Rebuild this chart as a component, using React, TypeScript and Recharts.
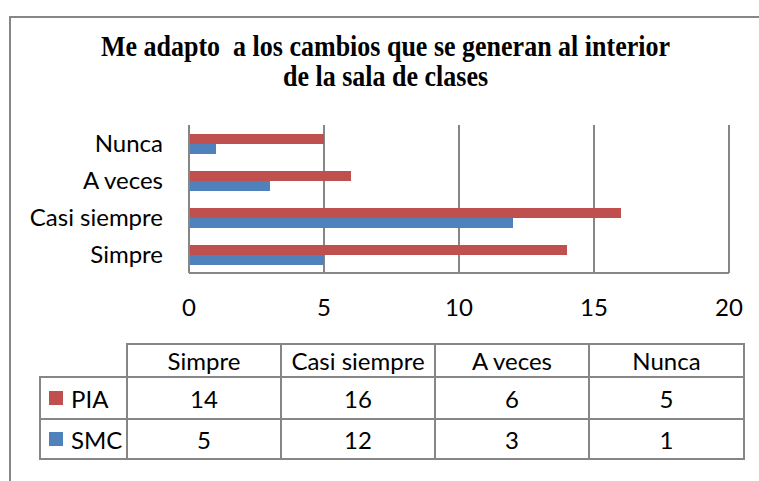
import { BarChart, Bar, XAxis, YAxis, CartesianGrid } from 'recharts'

const categories = ['Simpre', 'Casi siempre', 'A veces', 'Nunca']
const piaValues = [14, 16, 6, 5]
const smcValues = [5, 12, 3, 1]
const xTicks = [0, 5, 10, 15, 20]

const RED = '#C0504D'
const BLUE = '#4F81BD'
const LINE = '#868686'
const FONT = 'Lato, "Open Sans", sans-serif'

const data = categories.map((c, i) => ({ name: c, PIA: piaValues[i], SMC: smcValues[i] }))

const TICK = { fill: '#000', fontSize: 24, fontFamily: FONT }

// table column edges (label column + one per category)
const COL_X = [39, 126, 280, 434, 588, 743]
const ROW_Y = [343, 376, 418, 458]

function DataTable() {
  const series = [
    { name: 'PIA', color: RED, values: piaValues },
    { name: 'SMC', color: BLUE, values: smcValues },
  ]
  const cell = (x0: number, x1: number, y0: number, y1: number, key: string, content: React.ReactNode, align = 'center') => (
    <div
      key={key}
      style={{
        position: 'absolute', left: x0, top: y0, width: x1 - x0, height: y1 - y0,
        boxSizing: 'border-box', border: `2px solid ${LINE}`, display: 'flex',
        alignItems: 'center', justifyContent: align, fontFamily: FONT, fontSize: 24, color: '#000',
        paddingLeft: align === 'flex-start' ? 8 : 0,
      }}
    >
      {content}
    </div>
  )
  const cells: React.ReactNode[] = []
  categories.forEach((c, i) => {
    cells.push(cell(COL_X[i + 1], COL_X[i + 2] + 2, ROW_Y[0], ROW_Y[1] + 2, 'h' + i, c))
  })
  series.forEach((s, r) => {
    cells.push(cell(COL_X[0], COL_X[1] + 2, ROW_Y[r + 1], ROW_Y[r + 2] + 2, 'l' + r,
      <><span style={{ display: 'inline-block', width: 14, height: 14, background: s.color, marginRight: 8 }} />{s.name}</>,
      'flex-start'))
    s.values.forEach((v, i) => {
      cells.push(cell(COL_X[i + 1], COL_X[i + 2] + 2, ROW_Y[r + 1], ROW_Y[r + 2] + 2, `v${r}-${i}`, v))
    })
  })
  return <>{cells}</>
}

export default function App() {
  return (
    <div style={{ position: 'absolute', left: 0, top: 0, width: 759, height: 481, background: '#fff', overflow: 'hidden' }}>
      <div style={{ position: 'absolute', left: 9, top: 16, width: 800, height: 500, borderLeft: `2px solid ${LINE}`, borderTop: `2px solid ${LINE}` }} />
      <div
        style={{
          position: 'absolute', left: 0, top: 32, width: 771, textAlign: 'center',
          fontFamily: '"Liberation Serif", serif', fontWeight: 'bold', fontSize: 26, lineHeight: '27px', color: '#000',
          transform: 'scaleY(1.1)', transformOrigin: 'top',
        }}
      >
        Me adapto&nbsp; a los cambios que se generan al interior<br />de la sala de clases
      </div>
      <div style={{ position: 'absolute', left: 0, top: 0 }}>
        <BarChart
          width={759}
          height={340}
          data={data}
          layout="vertical"
          margin={{ top: 125, right: 30, left: 0, bottom: 0 }}
          barGap={0}
        >
          <CartesianGrid horizontal={false} stroke={LINE} strokeWidth={2} />
          <XAxis
            type="number"
            domain={[0, 20]}
            ticks={xTicks}
            tick={TICK}
            axisLine={{ stroke: LINE, strokeWidth: 2 }}
            tickLine={false}
            tickSize={0}
            tickMargin={26}
            height={67}
          />
          <YAxis
            type="category"
            dataKey="name"
            reversed
            width={189}
            tick={TICK}
            axisLine={{ stroke: LINE, strokeWidth: 2 }}
            tickLine={false}
            tickSize={0}
            tickMargin={26}
          />
          <Bar dataKey="PIA" fill={RED} barSize={10} isAnimationActive={false} />
          <Bar dataKey="SMC" fill={BLUE} barSize={10} isAnimationActive={false} />
        </BarChart>
      </div>
      <DataTable />
    </div>
  )
}
